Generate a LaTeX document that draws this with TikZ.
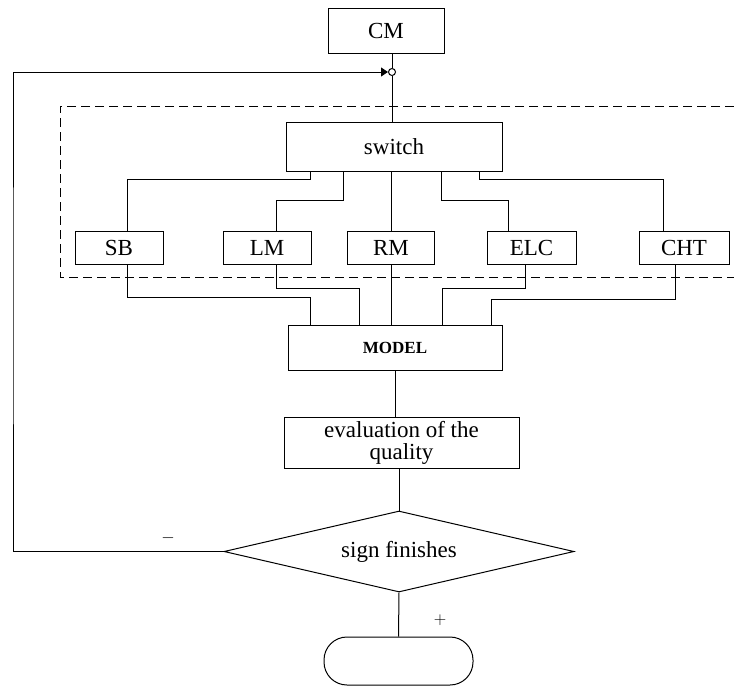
\documentclass[tikz,border=0pt]{standalone}
\usepackage{fontspec}
\setmainfont{Liberation Serif}
\usetikzlibrary{shapes.geometric,arrows.meta}
\begin{document}
\begin{tikzpicture}[x=1pt, y=-1pt, line width=1pt,
    blok/.style={draw, rectangle, inner sep=0pt, minimum height=33pt, font=\fontsize{23}{22}\selectfont},
    uzel/.style={draw, circle, inner sep=0pt, minimum size=7pt},
    znak/.style={font=\fontsize{16}{16}\selectfont}]
\useasboundingbox ( 0, 0 ) rectangle ( 734, 686 );

% верх
            \node [blok, minimum width=116pt, minimum height=45pt] (cm) at ( 386, 30.5 ) {CM};
            \node [uzel] (jn) at ( 392, 72 ) {};
            \node [blok, minimum width=216pt, minimum height=49pt] (sw) at ( 394, 146.5 ) {switch};

% пунктир
            \draw [dashed, dash pattern=on 9pt off 5pt] ( 734, 106 ) -- ( 60, 106 ) -- ( 60, 277 ) -- ( 734, 277 );

% блоки
            \node [blok, minimum width=88pt] (sb) at ( 119, 247.5 ) {SB};
            \node [blok, minimum width=88pt] (lm) at ( 267, 247.5 ) {LM};
            \node [blok, minimum width=87pt] (rm) at ( 391, 247.5 ) {RM};
            \node [blok, minimum width=89pt] (elc) at ( 531.5, 247.5 ) {ELC};
            \node [blok, minimum width=90pt] (cht) at ( 684, 247.5 ) {CHT};

% модель и оценка
            \node [blok, minimum width=214pt, minimum height=45pt, font=\bfseries\fontsize{17}{20}\selectfont] (model) at ( 395, 347.5 ) {MODEL};
            \node [blok, minimum width=235pt, minimum height=51pt, align=center] (eval) at ( 401.5, 442.5 ) {evaluation of the\\quality};
            \node [draw, diamond, shape aspect=4.3, inner sep=0pt, minimum width=350pt, minimum height=81pt, font=\fontsize{23}{22}\selectfont] (sign) at ( 399, 551.5 ) {sign finishes};
            \node [draw, rectangle, rounded corners=23pt, minimum width=149pt, minimum height=48pt] (term) at ( 398.5, 661 ) {};

% связи сверху
            \draw (cm.south -| jn) -- (jn);
            \draw (jn) -- (jn |- sw.north);
            \draw ([xshift=-84pt]sw.south) -- ++( 0, 8 ) -| ([xshift=8pt]sb.north);
            \draw ([xshift=-51pt]sw.south) -- ++( 0, 29 ) -| ([xshift=9pt]lm.north);
            \draw (sw.south -| rm.north) -- (rm.north);
            \draw ([xshift=47pt]sw.south) -- ++( 0, 29 ) -| ([xshift=-23pt]elc.north);
            \draw ([xshift=85pt]sw.south) -- ++( 0, 8 ) -| ([xshift=-21pt]cht.north);

% связи снизу
            \draw ([xshift=8pt]sb.south) -- ++( 0, 33 ) -| ([xshift=-85pt]model.north);
            \draw ([xshift=9pt]lm.south) -- ++( 0, 24 ) -| ([xshift=-36pt]model.north);
            \draw (rm.south) -- (rm.south |- model.north);
            \draw ([xshift=-6pt]elc.south) -- ++( 0, 24 ) -| ([xshift=47pt]model.north);
            \draw ([xshift=-9pt]cht.south) -- ++( 0, 35 ) -| ([xshift=96pt]model.north);

% вниз
            \draw (model.south) -- (model.south |- eval.north);
            \draw (eval.south -| sign.north) -- (sign.north);
            \draw (sign.south) -- (term.north);

% обратная связь
            \coordinate (fb) at ( 13, 300 );
            \draw [-{Triangle[length=7pt, width=9pt]}] (sign.west) -| (fb) |- (jn.west);
            \node [znak] (minus) at ( 168, 538 ) {$-$};
            \node [znak] (plus) at ( 440, 620 ) {$+$};
        \end{tikzpicture}
\end{document}
